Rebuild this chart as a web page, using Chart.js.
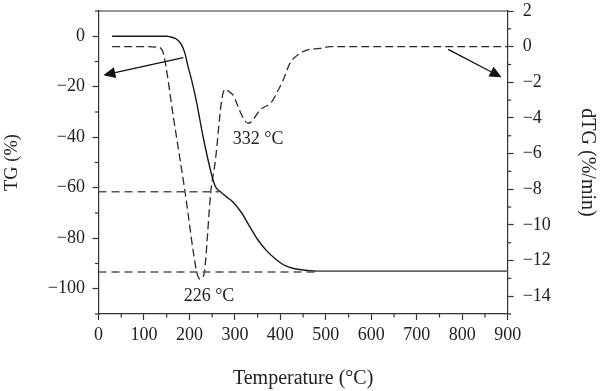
<!DOCTYPE html>
<html><head><meta charset="utf-8">
<script src="https://cdn.jsdelivr.net/npm/chart.js@4.4.1/dist/chart.umd.min.js"></script>
<style>html,body{margin:0;padding:0;background:#fff;}#c{display:block;}</style>
</head><body>
<canvas id="c" width="600" height="391"></canvas>
<script>
// ---- data ----
const tgTemp  = [30, 150, 157, 165, 172, 183, 190, 197, 205, 215, 230, 241, 252, 258, 263, 268, 282, 296, 315, 333, 350, 370, 390, 406, 425, 443, 480, 600, 700, 800, 900];
const tgValue = [0, 0, -0.2, -0.6, -1.2, -3.5, -6.7, -12, -17.5, -25.5, -39.8, -49, -57, -59.8, -60.9, -61.6, -63.7, -65.7, -70, -75.5, -80.5, -85, -88.3, -90.4, -91.8, -92.4, -93, -93, -93, -93, -93];

const dtgTemp  = [30, 100, 130, 138, 143, 165, 190, 216, 220, 224, 229, 233, 247, 257, 271, 278, 286, 296, 315, 329, 340, 355, 381, 395, 406, 421, 443, 458, 487, 509, 600, 700, 800, 900];
const dtgValue = [0, 0, -0.03, -0.12, -0.4, -4.0, -8.1, -12.65, -12.95, -13.05, -12.95, -12.65, -8.15, -6.4, -3.0, -2.4, -2.5, -2.72, -3.84, -4.31, -4.1, -3.56, -3.1, -2.45, -1.88, -0.94, -0.38, -0.19, -0.1, 0, 0, 0, 0, 0];

const refLevels = [-61.6, -93.4];   // TG (%) guide lines
const refEnds   = [265, 480];       // temperature where each guide ends

const peakLabels = ['226 \u00B0C', '332 \u00B0C'];
const peakLabelT = [243, 351];
const peakLabelV = [-14.0, -5.2];   // dTG units

const arrowAxes = ['y', 'y2'];
const arrowFromT = [186.5, 769];
const arrowFromV = [-8.5, -0.15];
const arrowToT   = [10.6, 886.7];
const arrowToV   = [-15.4, -1.72];

const xTitle = 'Temperature (\u00B0C)';
const yTitle = 'TG (%)';
const y2Title = 'dTG (%/min)';

// ---- chart ----
const FONT = '"Liberation Serif", "DejaVu Serif", serif';
const INK = '#222';
const AXIS = '#333';
const fmt = v => v < 0 ? '\u2212' + Math.abs(v) : String(v);
const pts = (xs, ys) => xs.map((x, i) => ({x, y: ys[i]}));

const extras = {
  id: 'extras',
  afterDatasetsDraw(chart) {
    const ctx = chart.ctx, a = chart.chartArea;
    const sx = chart.scales.x, sy = chart.scales.y, sy2 = chart.scales.y2;
    ctx.save();
    ctx.strokeStyle = AXIS; ctx.lineWidth = 1.2;
    const seg = (x1, y1, x2, y2) => { ctx.beginPath(); ctx.moveTo(x1, y1); ctx.lineTo(x2, y2); ctx.stroke(); };
    // top frame line
    seg(a.left, a.top, a.right, a.top);
    // minor ticks
    sx.ticks.forEach(t => { if (Math.round(t.value) % 100 !== 0) { const p = sx.getPixelForValue(t.value); seg(p, a.bottom, p, a.bottom + 3.5); } });
    sy.ticks.forEach(t => { if (Math.round(t.value) % 20 !== 0) { const p = sy.getPixelForValue(t.value); seg(a.left - 3.5, p, a.left, p); } });
    sy2.ticks.forEach(t => { if (Math.round(t.value) % 2 !== 0) { const p = sy2.getPixelForValue(t.value); seg(a.right, p, a.right + 3.5, p); } });
    // arrows
    ctx.strokeStyle = '#111'; ctx.fillStyle = '#111'; ctx.lineWidth = 1.3;
    for (let i = 0; i < arrowAxes.length; i++) {
      const ys = chart.scales[arrowAxes[i]];
      const x1 = sx.getPixelForValue(arrowFromT[i]), y1 = ys.getPixelForValue(arrowFromV[i]);
      const x2 = sx.getPixelForValue(arrowToT[i]), y2 = ys.getPixelForValue(arrowToV[i]);
      const ang = Math.atan2(y2 - y1, x2 - x1);
      const L = 12, W = 5.5;
      const bx = x2 - L * Math.cos(ang), by = y2 - L * Math.sin(ang);
      seg(x1, y1, bx, by);
      ctx.beginPath();
      ctx.moveTo(x2, y2);
      ctx.lineTo(bx + W * Math.sin(ang), by - W * Math.cos(ang));
      ctx.lineTo(bx - W * Math.sin(ang), by + W * Math.cos(ang));
      ctx.closePath(); ctx.fill();
    }
    // peak labels
    ctx.fillStyle = INK; ctx.font = '18px ' + FONT; ctx.textAlign = 'center'; ctx.textBaseline = 'middle';
    for (let i = 0; i < peakLabels.length; i++) {
      ctx.fillText(peakLabels[i], sx.getPixelForValue(peakLabelT[i]), sy2.getPixelForValue(peakLabelV[i]));
    }
    ctx.restore();
  }
};

const tickFont = {family: FONT, size: 18};
const majorTick = (mod) => (c) => (c.tick && Math.round(c.tick.value) % mod === 0) ? AXIS : 'rgba(0,0,0,0)';
const fitV = w => s => { s.width = w; s.paddingTop = 0; s.paddingBottom = 0; };

new Chart(document.getElementById('c'), {
  type: 'line',
  data: {
    datasets: [
      {label: 'ref1', data: pts([0, refEnds[0]], [refLevels[0], refLevels[0]]), yAxisID: 'y',
       borderColor: '#555', borderWidth: 1.5, borderDash: [8, 5], pointRadius: 0, fill: false},
      {label: 'ref2', data: pts([0, refEnds[1]], [refLevels[1], refLevels[1]]), yAxisID: 'y',
       borderColor: '#555', borderWidth: 1.5, borderDash: [8, 5], pointRadius: 0, fill: false},
      {label: 'TG', data: pts(tgTemp, tgValue), yAxisID: 'y',
       borderColor: '#1a1a1a', borderWidth: 1.4, pointRadius: 0, cubicInterpolationMode: 'monotone', fill: false,
       segment: {borderColor: c => c.p0.parsed.x >= 480 ? '#666' : '#1a1a1a', borderWidth: c => c.p0.parsed.x >= 480 ? 1.8 : 1.4}},
      {label: 'dTG', data: pts(dtgTemp, dtgValue), yAxisID: 'y2',
       borderColor: '#2a2a2a', borderWidth: 1.3, borderDash: [8, 4], pointRadius: 0, cubicInterpolationMode: 'monotone', fill: false}
    ]
  },
  options: {
    responsive: false, animation: false, devicePixelRatio: 1,
    layout: {padding: {top: 11, left: 0, right: 0, bottom: 0}},
    plugins: {legend: {display: false}, tooltip: {enabled: false}},
    scales: {
      x: {
        type: 'linear', min: 0, max: 900,
        afterFit: s => { s.height = 77; s.paddingLeft = 0; s.paddingRight = 0; },
        ticks: {stepSize: 50, autoSkip: false, maxRotation: 0, padding: 4, color: INK, font: tickFont,
                callback: v => Math.round(v) % 100 === 0 ? String(v) : ''},
        grid: {drawOnChartArea: false, drawTicks: true, tickLength: 6, tickWidth: 1.2, tickColor: majorTick(100)},
        border: {display: true, color: AXIS, width: 1.2},
        title: {display: true, text: xTitle, color: INK, font: {family: FONT, size: 20}, padding: {top: 0, bottom: 0}}
      },
      y: {
        type: 'linear', position: 'left', min: -110, max: 10,
        afterFit: fitV(98.5),
        ticks: {stepSize: 10, autoSkip: false, padding: 7.5, color: INK, font: tickFont,
                callback: v => Math.round(v) % 20 === 0 ? fmt(Math.round(v)) : ''},
        grid: {drawOnChartArea: false, drawTicks: true, tickLength: 6, tickWidth: 1.2, tickColor: majorTick(20)},
        border: {display: true, color: AXIS, width: 1.2},
        title: {display: true, text: yTitle, color: INK, font: {family: FONT, size: 18.5}, padding: {top: 1, bottom: 0}}
      },
      y2: {
        type: 'linear', position: 'right', min: -15, max: 2,
        afterFit: fitV(92.3),
        ticks: {stepSize: 1, autoSkip: false, padding: 9, color: INK, font: tickFont,
                callback: v => Math.round(v) % 2 === 0 ? fmt(Math.round(v)) : ''},
        grid: {drawOnChartArea: false, drawTicks: true, tickLength: 6, tickWidth: 1.2, tickColor: majorTick(2)},
        border: {display: true, color: AXIS, width: 1.2},
        title: {display: true, text: y2Title, color: INK, font: {family: FONT, size: 20}, padding: {top: 1, bottom: 0}}
      }
    }
  },
  plugins: [extras]
});
</script>
</body></html>
